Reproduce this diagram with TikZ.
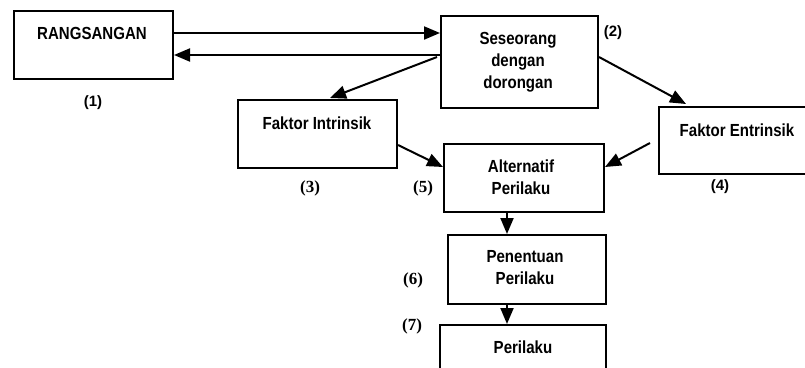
\documentclass[tikz,border=0pt]{standalone}
\usepackage{fontspec}
\setmainfont{Liberation Sans}
\newfontfamily\narrowsans[FakeStretch=0.86]{Liberation Sans}
\newfontfamily\serifnum{Liberation Serif}
\usetikzlibrary{calc,arrows.meta}
\tikzset{
  boxnode/.style={draw, line width=2pt, inner sep=0pt, anchor=north west},
  boxtext/.style={inner sep=0pt, align=center, font=\narrowsans\fontsize{17.5}{22}\selectfont\bfseries},
  snum/.style={inner sep=0pt, font=\fontsize{15}{16}\selectfont\bfseries},
  rnum/.style={inner sep=0pt, font=\serifnum\fontsize{17}{18}\selectfont\bfseries},
  arr/.style={line width=2pt, -{Triangle[length=16pt,width=13pt]}}
}
\begin{document}
\begin{tikzpicture}[x=1pt,y=-1pt]
\useasboundingbox (0,0) rectangle (805,367);
% boxes
\node[boxnode, minimum width=159pt, minimum height=68pt] (rang) at (13,10) {};
\node[boxnode, minimum width=157pt, minimum height=92pt] (ses) at (440,15) {};
\node[boxnode, minimum width=159pt, minimum height=68pt] (fi) at (237,99) {};
\node[boxnode, minimum width=160pt, minimum height=67pt] (fe) at (658,106) {};
\node[boxnode, minimum width=160pt, minimum height=68pt] (alt) at (443,143) {};
\node[boxnode, minimum width=158pt, minimum height=69pt] (pen) at (447,234) {};
\node[boxnode, minimum width=166pt, minimum height=60pt] (per) at (439,324) {};
% texts
\node[boxtext] (trang) at ($(rang.north west)+(79,23)$) {RANGSANGAN};
\node[boxtext] (tses) at ($(ses.north west)+(78,47)$) {Seseorang\\dengan\\dorongan};
\node[boxtext] (tfi) at ($(fi.north west)+(80,24)$) {Faktor Intrinsik};
\node[boxtext] (tfe) at ($(fe.north west)+(79,24)$) {Faktor Entrinsik};
\node[boxtext] (talt) at ($(alt.north west)+(78,34)$) {Alternatif\\Perilaku};
\node[boxtext] (tpen) at ($(pen.north west)+(78,34)$) {Penentuan\\Perilaku};
\node[boxtext] (tper) at ($(per.north west)+(84,23)$) {Perilaku};
% labels
\node[snum] (l1) at (93,103) {(1)};
\node[snum] (l2) at (613,33) {(2)};
\node[rnum] (l3) at (310,188) {(3)};
\node[snum] (l4) at (720,187) {(4)};
\node[rnum] (l5) at (423,188) {(5)};
\node[rnum] (l6) at (413,280) {(6)};
\node[rnum] (l7) at (412,326) {(7)};
% arrows
\draw[arr] ($(rang.north east)+(0,23)$) -- ($(ses.north west)+(0,18)$);
\draw[arr] ($(ses.north west)+(0,40)$) -- ($(rang.north east)+(0,45)$);
\draw[arr] ($(ses.north west)+(-3,42)$) -- ($(fi.north west)+(93,-1)$);
\draw[arr] ($(ses.north east)+(0,42)$) -- ($(fe.north west)+(28,-2)$);
\draw[arr] ($(fi.north east)+(0,46)$) -- ($(alt.north west)+(0,24)$);
\draw[arr] ($(fe.north west)+(-8,37)$) -- ($(alt.north east)+(0,24)$);
\draw[arr] ($(alt.south west)+(64,0)$) -- ($(pen.north west)+(60,0)$);
\draw[arr] ($(pen.south west)+(60,0)$) -- ($(per.north west)+(68,0)$);
\end{tikzpicture}
\end{document}
